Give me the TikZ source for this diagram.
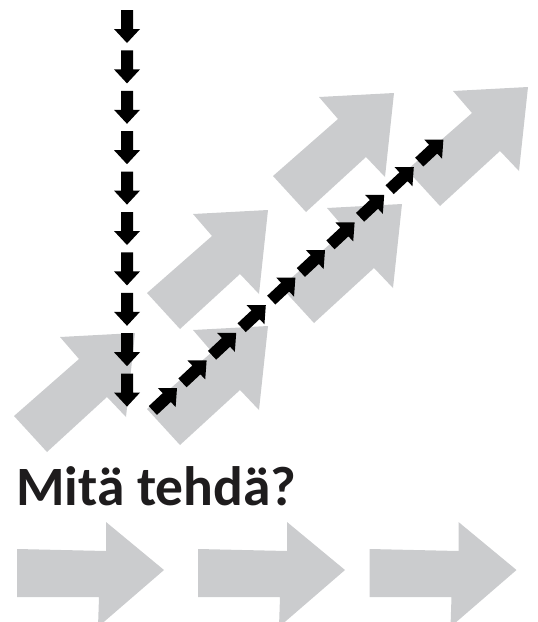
\documentclass[tikz,border=0pt]{standalone}
\usepackage{fontspec}
\setmainfont{Carlito}
\definecolor{arrowgrey}{RGB}{203,204,206}
\definecolor{titleblack}{RGB}{30,28,29}
\tikzset{
  greyarrow/.pic={\fill[arrowgrey] (0,0) -- (-75,4) -- (-56,26) -- (-121,83) -- (-88,119) -- (-28,64) -- (-9,84) -- cycle;},
  flatarrow/.pic={\fill[arrowgrey] (0,0) -- (89,2) -- (89,-27) -- (147,21) -- (81,78) -- (82,48) -- (0,48) -- cycle;},
  blackarrow/.pic={\fill[black] (-33,-6) -- (-14,-6) -- (-14,-13) -- (0,0) -- (-14,13) -- (-14,6) -- (-33,6) -- cycle;},
  titletext/.style={anchor=base west, inner sep=0pt, font=\bfseries\fontsize{55.5}{60}\selectfont, text=titleblack}
}
\begin{document}
\begin{tikzpicture}[x=1pt,y=-1pt]
\clip (0,0) rectangle (538,622);
\useasboundingbox (0,0) rectangle (538,622);
% grey diagonal arrows
\pic at (135,333) {greyarrow};
\pic at (268,210) {greyarrow};
\pic at (268,326) {greyarrow};
\pic at (394,93) {greyarrow};
\pic at (402,204) {greyarrow};
\pic at (528,87) {greyarrow};
% black vertical arrows
\foreach \k in {0,...,9} {
  \pic[rotate=-90] at (127,{43+\k*40.4}) {blackarrow};
}
% black diagonal arrows
\foreach \k in {0,...,9} {
  \pic[rotate=43] at ({177+\k*29.6},{388-\k*27.6}) {blackarrow};
}
% title
\node[titletext] (title) at (16,505) {Mitä tehdä?};
% bottom arrows
\pic at (17,549) {flatarrow};
\pic at (198,549) {flatarrow};
\pic at (369.5,549) {flatarrow};
\end{tikzpicture}
\end{document}
